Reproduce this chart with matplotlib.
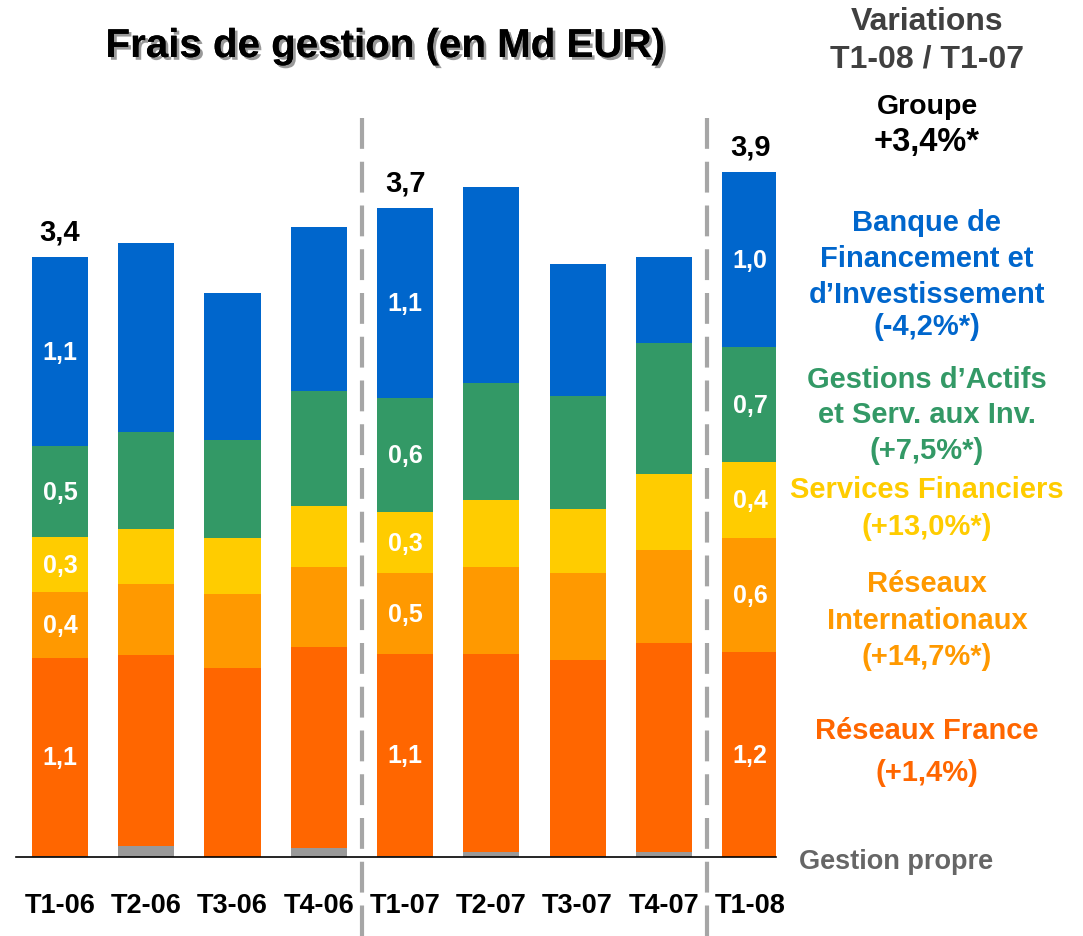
"""
Frais de gestion (en Md EUR) - stacked bars by business line.
"""
import matplotlib
matplotlib.use("Agg")
import matplotlib.pyplot as plt
import matplotlib.patheffects as pe

plt.rcParams["font.family"] = ["Liberation Sans", "DejaVu Sans"]
plt.rcParams["font.weight"] = "bold"

########
# Data #
########
quarters = ["T1-06", "T2-06", "T3-06", "T4-06", "T1-07", "T2-07", "T3-07", "T4-07", "T1-08"]

gestion_propre = [0.005, 0.063, 0.0, 0.051, 0.005, 0.028, 0.005, 0.028, 0.0]
reseaux_france = [1.128, 1.088, 1.076, 1.145, 1.150, 1.128, 1.116, 1.190, 1.167]
reseaux_intl = [0.376, 0.404, 0.421, 0.456, 0.461, 0.495, 0.495, 0.530, 0.649]
services_fin = [0.313, 0.313, 0.319, 0.347, 0.347, 0.382, 0.364, 0.433, 0.433]
gestions_actifs = [0.518, 0.552, 0.558, 0.655, 0.649, 0.666, 0.643, 0.746, 0.655]
bfi = [1.076, 1.076, 0.837, 0.934, 1.082, 1.116, 0.752, 0.490, 0.997]

# labels written on bars T1-06, T1-07, T1-08 (bottom to top, without gestion propre)
labelled_bars = [0, 4, 8]
segment_labels = {
    0: ["1,1", "0,4", "0,3", "0,5", "1,1"],
    4: ["1,1", "0,5", "0,3", "0,6", "1,1"],
    8: ["1,2", "0,6", "0,4", "0,7", "1,0"],
}
total_labels = {0: "3,4", 4: "3,7", 8: "3,9"}

series = [gestion_propre, reseaux_france, reseaux_intl, services_fin, gestions_actifs, bfi]
colors = ["#999999", "#FF6600", "#FF9900", "#FFCC00", "#339966", "#0066CC"]

# right-hand annotations: (lines, colour, size, y centres in px)
W, H = 1083, 937
side_notes = [
    (["Variations", "T1-08 / T1-07"], "#404040", 23, [22, 60]),
    (["Groupe"], "black", 20.5, [107]),
    (["+3,4%*"], "black", 23.5, [143]),
    (["Banque de", "Financement et", "d\u2019Investissement", "(-4,2%*)"], "#0066CC", 21,
     [223, 259, 295, 327]),
    (["Gestions d\u2019Actifs", "et Serv. aux Inv.", "(+7,5%*)"], "#339966", 21, [380, 415, 451]),
    (["Services Financiers", "(+13,0%*)"], "#FFCC00", 21, [490, 527]),
    (["R\u00e9seaux", "Internationaux", "(+14,7%*)"], "#FF9900", 21, [584, 621, 657]),
    (["R\u00e9seaux France", "(+1,4%)"], "#FF6600", 21, [731, 773]),
]

########
# Plot #
########
fig = plt.figure(figsize=(W / 100, H / 100), dpi=100)

px_per_unit = 175.6
base_px = 858
top_px = 100
left_px, right_px = 16, 776
ax = fig.add_axes([left_px / W, (H - base_px) / H, (right_px - left_px) / W, (base_px - top_px) / H])
ax.set_ylim(0, (base_px - top_px) / px_per_unit)
ax.set_xlim(-0.51, 8.30)

x = list(range(len(quarters)))
bottoms = [0.0] * len(quarters)
for vals, col in zip(series, colors):
    ax.bar(x, vals, width=0.65, bottom=bottoms, color=col, edgecolor="none", zorder=2)
    bottoms = [b + v for b, v in zip(bottoms, vals)]

# values inside the labelled bars
for i in labelled_bars:
    base = gestion_propre[i]
    for vals, txt in zip(series[1:], segment_labels[i]):
        ax.text(i, base + vals[i] / 2, txt, ha="center", va="center",
                color="white", fontsize=18, fontweight="bold", zorder=3)
        base += vals[i]
    ax.text(i, bottoms[i] + 0.065, total_labels[i], ha="center", va="bottom",
            color="black", fontsize=21, fontweight="bold")

# dashed separators
for xs in [3.5, 7.5]:
    ax.plot([xs, xs], [(base_px - 119) / px_per_unit, (base_px - H) / px_per_unit],
            color="#A6A6A6", lw=3, dashes=(7.4, 3.1), clip_on=False, zorder=1)

for s in ["top", "right", "left"]:
    ax.spines[s].set_visible(False)
ax.spines["bottom"].set_color("black")
ax.spines["bottom"].set_linewidth(1.2)
ax.set_yticks([])
ax.set_xticks(x)
ax.set_xticklabels(quarters, fontsize=19.5, fontweight="bold")
ax.tick_params(axis="x", length=0, pad=25)

# title with drop shadow
fig.text(385 / W, 1 - 47 / H, "Frais de gestion (en Md EUR)", ha="center", va="center",
         fontsize=29, fontweight="bold", color="black",
         path_effects=[pe.withSimplePatchShadow(offset=(2, -2), shadow_rgbFace="#999999", alpha=1),
                       pe.Normal()])

for lines, col, size, ys in side_notes:
    for line, y in zip(lines, ys):
        fig.text(927 / W, 1 - y / H, line, ha="center", va="center",
                 fontsize=size, fontweight="bold", color=col)

fig.text(896 / W, 1 - 862 / H, "Gestion propre", ha="center", va="center",
         fontsize=19.5, fontweight="bold", color="#666666")

fig.savefig("out.png", dpi=100)
